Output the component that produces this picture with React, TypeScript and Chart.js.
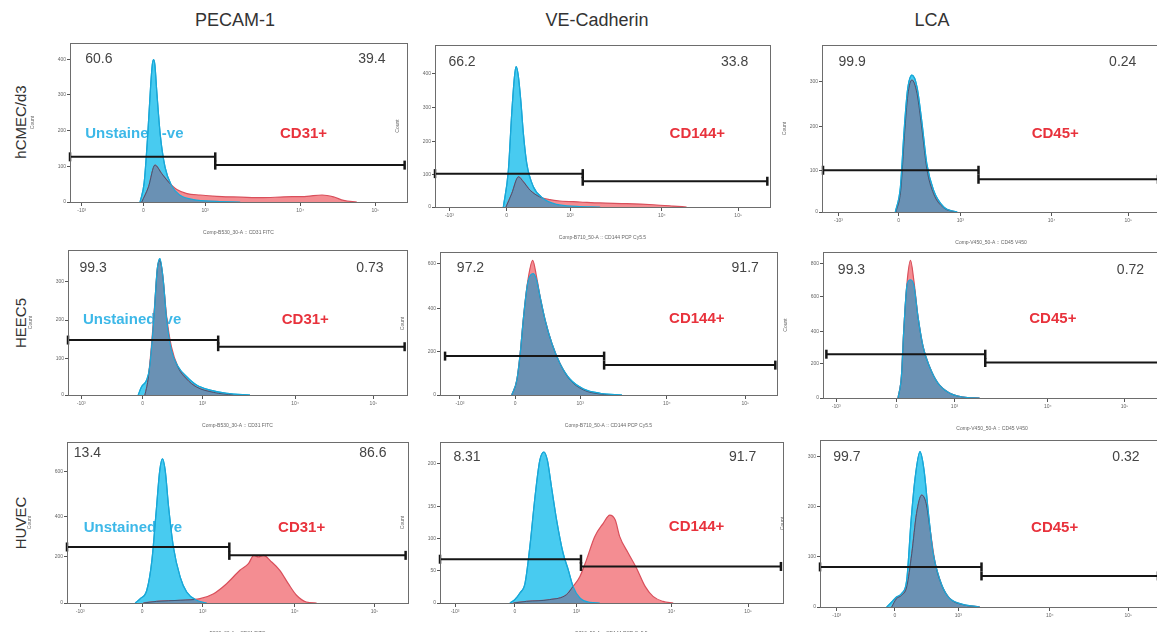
import React, { useEffect, useRef } from "react";
import { Chart, registerables } from "chart.js";

Chart.register(...registerables);

type Pt = [number, number];

// ---------- text ----------
const columnTitles = ["PECAM-1", "VE-Cadherin", "LCA"];
const rowLabels = ["hCMEC/d3", "HEEC5", "HUVEC"];
const positiveLabels = ["CD31+", "CD144+", "CD45+"];
const negativeLabel = "Unstained -ve";
const xTickLabels = ["-10³", "0", "10³", "10⁴", "10⁵"];
const xAxisTitles = [
  "Comp-B530_30-A :: CD31 FITC", "Comp-B710_50-A :: CD144 PCP Cy5.5", "Comp-V450_50-A :: CD45 V450",
  "Comp-B530_30-A :: CD31 FITC", "Comp-B710_50-A :: CD144 PCP Cy5.5", "Comp-V450_50-A :: CD45 V450",
  "B530_30-A :: CD31 FITC", "B710_50-A :: CD144 PCP Cy5.5", "V450_50-A :: CD45 V450",
];
const leftPercents = ["60.6", "66.2", "99.9", "99.3", "97.2", "99.3", "13.4", "8.31", "99.7"];
const rightPercents = ["39.4", "33.8", "0.24", "0.73", "91.7", "0.72", "86.6", "91.7", "0.32"];

// ---------- histogram data (x: % of axis range, y: % of count axis) ----------
const hcmecPecamUnstained: Pt[] = [[20.8,0],[22.0,12],[23.0,40],[23.9,72],[24.4,86],[24.8,89.5],[25.2,86],[25.8,68],[26.8,42],[28.2,22],[30.2,10],[32.7,4.2],[36.6,1.5],[43.6,0.4],[50.5,0]];
const hcmecPecamStained: Pt[] = [[21.3,0],[23.3,9.5],[25.2,23.2],[27.2,17.9],[29.2,12.6],[31.7,7.8],[34.7,5.3],[38.6,4.4],[43.6,3.6],[48.5,3.2],[56.4,2.7],[63.4,3.2],[70.3,3.6],[74.8,4.4],[78.2,3.2],[81.2,1],[85.1,0]];

const hcmecVecadUnstained: Pt[] = [[20.4,0],[21.9,22.7],[22.9,57.7],[23.7,80],[24.2,86.6],[24.8,82],[25.6,66],[26.4,45],[27.4,26.8],[29.4,12.4],[32.3,5.2],[36.3,1.6],[42.3,0.4],[49.3,0]];
const hcmecVecadStained: Pt[] = [[21.2,0],[22.9,8.2],[24.9,18.6],[26.4,15.5],[28.4,10.3],[31.3,6.2],[34.3,4.5],[37.3,3.7],[43.3,3.1],[49.3,2.5],[57.2,2.1],[65.2,1.4],[71.1,0.6],[75.1,0]];

const hcmecLcaUnstained: Pt[] = [[21.7,0],[23.2,15],[24.3,49],[25.3,73],[26.6,82],[28.1,75],[29.6,53],[31.0,29],[33.0,13],[36.0,3],[40,0]];
const hcmecLcaStained: Pt[] = [[21.9,0],[23.3,13],[24.4,46],[25.4,70],[26.6,79],[28.1,71],[29.6,49],[31.0,26],[33.0,11],[36.0,2.5],[39.5,0]];

const heecPecamUnstained: Pt[] = [[20.7,0],[21.7,5.7],[23.2,10.3],[24.1,19.5],[25.3,51.7],[26.3,86],[27.1,94],[28.1,79],[29.1,51.7],[30.5,31],[32.5,19.5],[35,12.6],[37.9,6.9],[41.9,3.4],[46.8,1.1],[53.7,0]];
const heecPecamStained: Pt[] = [[22.7,0],[23.6,10.3],[24.6,33.3],[25.6,63],[26.4,88],[27.1,92.5],[27.9,83.4],[29.1,54],[30.5,33.3],[32.5,19],[35,11],[37.9,5.5],[42.9,1.8],[48.8,0]];

const heecVecadUnstained: Pt[] = [[21.3,0],[22.8,10.5],[23.8,29],[24.8,54.7],[26,77.9],[27.7,84.9],[28.7,80],[29.7,68.6],[31.2,52.3],[33.2,36],[35.6,22],[38.6,11],[42.6,4.2],[47.5,1.2],[54,0]];
const heecVecadStained: Pt[] = [[21.3,0],[22.8,10.5],[23.8,29],[24.8,54.7],[26,79],[27.5,94.2],[28.7,82],[29.7,68.6],[31.2,52.3],[33.2,36],[35.6,22],[38.6,10.5],[42.6,3.5],[47.5,0.7],[52.5,0]];

const heecLcaUnstained: Pt[] = [[22.2,0],[23.2,14.8],[23.9,46.6],[24.9,78],[25.9,81],[26.9,77],[28.1,55.7],[29.6,35.2],[31.5,21.6],[34,10.2],[37.4,3.4],[41.4,0.7],[46.3,0]];
const heecLcaStained: Pt[] = [[22.2,0],[23.2,14.8],[23.9,46.6],[24.9,80],[25.9,94.3],[26.9,80],[28.1,55.7],[29.6,35.2],[31.5,21.6],[34,10.2],[37.4,3.4],[41.4,0.7],[46.3,0]];

const huvecPecamUnstained: Pt[] = [[20,0],[21.5,2.7],[23.4,7.9],[24.9,26.5],[26.1,55.5],[27.2,82.4],[28,89.6],[28.8,82.4],[29.8,59.6],[31.2,34.8],[33.2,16.1],[35.1,6.8],[38,1.7],[41,0]];
const huvecPecamStained: Pt[] = [[22.4,0],[26.3,1],[33.2,1.7],[39,2.7],[43,5.8],[46.8,12],[50.7,20.3],[53.2,24.4],[54.8,29.6],[56.1,28.6],[57.6,29.6],[60,25.5],[62.4,20.3],[64.9,12],[67.3,4.8],[70.2,0.6],[73.2,0]];

const huvecVecadUnstained: Pt[] = [[20.4,0],[21.8,2.1],[23.3,6.2],[24.8,12.4],[26.2,35],[27.7,66],[29.1,88.7],[30.3,93.8],[31.3,88.7],[32.5,72.2],[34,51.5],[35.9,30.9],[37.4,20.6],[38.8,10.3],[40.8,3.1],[43.7,0.4],[46.6,0]];
const huvecVecadStained: Pt[] = [[21.4,0],[25.2,1],[32,2.1],[36.9,5.2],[38.8,10.3],[40.8,16.5],[42.7,26.8],[45.1,41.2],[47.6,49.5],[49.5,54.6],[51.1,51.5],[52.4,41.2],[54.9,30.9],[57.3,21.6],[59.8,10.3],[62.1,4.1],[65,1],[68,0]];

const huvecLcaUnstained: Pt[] = [[19.6,0],[21.1,3],[22.5,6],[24,8],[25.5,16],[26.8,52],[27.9,76],[29.4,93],[30.6,82],[31.9,56],[33.3,32],[35.3,16],[37.7,6],[41.2,2],[47,0]];
const huvecLcaStained: Pt[] = [[21.1,0],[22.5,5],[24,7],[25.5,12],[27,32],[28.4,56],[29.9,67],[31.2,62],[32.4,46],[33.8,27],[35.8,13],[38.2,5],[42.2,1.3],[47,0]];

const unstainedSeries = [hcmecPecamUnstained, hcmecVecadUnstained, hcmecLcaUnstained, heecPecamUnstained, heecVecadUnstained, heecLcaUnstained, huvecPecamUnstained, huvecVecadUnstained, huvecLcaUnstained];
const stainedSeries = [hcmecPecamStained, hcmecVecadStained, hcmecLcaStained, heecPecamStained, heecVecadStained, heecLcaStained, huvecPecamStained, huvecVecadStained, huvecLcaStained];

// ---------- gates ----------
const gateStartX = [0, 0, 0.3, 0, 1.5, 1, 0, 0, 0];
const gateSplitX = [43.1, 44.1, 46.3, 44.3, 48.7, 48, 47.6, 41.1, 47.5];
const gateEndX = [99.3, 99.2, 99.4, 99.3, 99.5, 99.4, 99.3, 99.4, 99.4];
const gateLeftY = [28.4, 20.6, 25, 37.9, 27.2, 30, 34.8, 27.2, 24];
const gateRightY = [23.2, 15.9, 19.6, 33.3, 20.9, 24.3, 29.6, 22.7, 18.6];

// ---------- ticks ----------
const xTickPositions = [
  [3.5, 21.8, 40.1, 68.3, 90.6], [4.3, 21.4, 40.3, 67.7, 90.5], [4.9, 22.7, 40.9, 67.9, 90.6],
  [3.9, 22.0, 39.7, 67.0, 90.1], [5.9, 22.3, 41.6, 67.3, 90.6], [3.9, 21.7, 38.9, 66.5, 89.2],
  [3.9, 22.0, 39.8, 66.8, 90.2], [4.4, 21.8, 39.8, 67.5, 89.8], [4.9, 22.0, 40.7, 67.6, 90.7],
];
const yTickPositions = [
  [0, 22.3, 44.8, 67.4, 89.5], [0, 20.2, 40.2, 61.4, 82.5], [0, 25, 51, 78],
  [0, 25.3, 51.7, 78.2], [0, 30.2, 60.5, 91.9], [0, 23.4, 45.5, 69.3, 92],
  [0, 28.6, 53.8, 81.4], [0, 20.2, 40.2, 59.8, 86.6], [0, 30, 60, 90],
];
const yTickLabels = [
  ["0", "100", "200", "300", "400"], ["0", "100", "200", "300", "400"], ["0", "100", "200", "300"],
  ["0", "100", "200", "300"], ["0", "200", "400", "600"], ["0", "200", "400", "600", "800"],
  ["0", "200", "400", "600"], ["0", "50", "100", "150", "200"], ["0", "100", "200", "300"],
];

// ---------- layout (plot boxes: left, top, width, height) ----------
const boxes = [
  [70, 43, 337, 159], [435, 45, 335, 162], [822, 45, 338, 167],
  [68, 250, 339, 145], [440, 252, 337, 143], [823, 252, 338, 146],
  [67, 442, 341, 161], [440, 442, 343, 161], [820, 440, 340, 167],
];
// label positions in % of plot box: [leftPctX, pctY, rightPctX, labelX, labelY]
const labelLayout = [
  [4.5, 10, 93.6, 69.3, 57], [4.0, 10.3, 93.5, 78.3, 55], [4.9, 10, 93, 69, 53],
  [3.4, 12.6, 93.1, 70, 48.3], [5.0, 11.6, 94.6, 76.2, 46.5], [4.4, 12.5, 95, 68, 45.5],
  [2.0, 7.2, 93.7, 68.8, 53.2], [3.9, 9.3, 92.2, 74.8, 52.6], [3.9, 10, 94, 69, 52.4],
];
const negLabelX = [4.5, 4.4, 4.9];

const titleCenters = [235, 597, 932];
const rowCenters = [122, 323, 523];

const CYAN_FILL = "#48cbf0";
const CYAN_EDGE = "#19a8d8";
const PINK_FILL = "#f48d92";
const RED_EDGE = "#d94f5b";
const OVERLAP_FILL = "#6a91b4";
const OVERLAP_EDGE = "#3d5877";

const PAD_L = 40, PAD_T = 14, PAD_R = 14, PAD_B = 34;

function Panel({ i }: { i: number }) {
  const ref = useRef<HTMLCanvasElement>(null);
  const [L, T, W, H] = boxes[i];
  const col = i % 3;
  useEffect(() => {
    const canvas = ref.current!;
    const toXY = (arr: Pt[]) => arr.map(([x, y]) => ({ x, y }));

    const overlapPlugin = {
      id: "overlap" + i,
      afterDatasetDraw(chart: any, args: any) {
        if (args.index !== 1) return;
        const blue = chart.getDatasetMeta(0).dataset;
        const red = chart.getDatasetMeta(1).dataset;
        const yb = chart.scales.y.getPixelForValue(0);
        const ctx = chart.ctx;
        const a = chart.chartArea;
        const trace = (line: any) => {
          const pts = line.points;
          ctx.beginPath();
          line.path(ctx);
          ctx.lineTo(pts[pts.length - 1].x, yb);
          ctx.lineTo(pts[0].x, yb);
          ctx.closePath();
        };
        ctx.save();
        ctx.beginPath();
        ctx.rect(a.left, a.top, a.right - a.left, a.bottom - a.top);
        ctx.clip();
        ctx.save();
        trace(blue);
        ctx.clip();
        trace(red);
        ctx.fillStyle = OVERLAP_FILL;
        ctx.fill();
        ctx.beginPath();
        red.path(ctx);
        ctx.strokeStyle = OVERLAP_EDGE;
        ctx.lineWidth = 1;
        ctx.stroke();
        ctx.restore();
        ctx.beginPath();
        blue.path(ctx);
        ctx.strokeStyle = CYAN_EDGE;
        ctx.lineWidth = 1.2;
        ctx.stroke();
        ctx.restore();
      },
    };

    const textPlugin = {
      id: "texts" + i,
      beforeDatasetsDraw(chart: any) {
        const ctx = chart.ctx;
        const a = chart.chartArea;
        const w = a.right - a.left, h = a.bottom - a.top;
        const [lx, ly, rx, px, py] = labelLayout[i];
        ctx.save();
        ctx.textBaseline = "middle";
        ctx.font = '14px "Liberation Sans", Arial, sans-serif';
        ctx.fillStyle = "#444";
        ctx.textAlign = "left";
        ctx.fillText(leftPercents[i], a.left + (w * lx) / 100, a.top + (h * ly) / 100);
        ctx.textAlign = "right";
        ctx.fillText(rightPercents[i], a.left + (w * rx) / 100, a.top + (h * ly) / 100);
        ctx.font = 'bold 15px "Liberation Sans", Arial, sans-serif';
        ctx.textAlign = "center";
        ctx.fillStyle = "#e8323c";
        ctx.fillText(positiveLabels[col], a.left + (w * px) / 100, a.top + (h * py) / 100);
        if (col === 0) {
          ctx.textAlign = "left";
          ctx.fillStyle = "#3db8e8";
          ctx.fillText(negativeLabel, a.left + (w * negLabelX[Math.floor(i / 3)]) / 100, a.top + (h * py) / 100);
        }
        ctx.restore();
      },
    };

    const framePlugin = {
      id: "frame" + i,
      afterDraw(chart: any) {
        const ctx = chart.ctx;
        const a = chart.chartArea;
        ctx.save();
        ctx.strokeStyle = "#6d6d6d";
        ctx.lineWidth = 1;
        ctx.strokeRect(Math.round(a.left) + 0.5, Math.round(a.top) + 0.5, Math.round(a.right - a.left), Math.round(a.bottom - a.top));
        ctx.restore();
      },
    };

    const gateStyle = {
      borderColor: "#161616",
      borderWidth: 2,
      pointStyle: "line" as const,
      rotation: 90,
      pointRadius: 4.5,
      pointBorderWidth: 2.5,
      pointBorderColor: "#161616",
      fill: false,
      clip: false as any,
      order: 1,
    };

    const chart = new Chart(canvas, {
      type: "line",
      data: {
        datasets: [
          {
            label: "Unstained",
            data: toXY(unstainedSeries[i]),
            backgroundColor: CYAN_FILL,
            borderColor: CYAN_EDGE,
            borderWidth: 1.2,
            pointRadius: 0,
            fill: "origin",
            cubicInterpolationMode: "monotone",
            order: 3,
          },
          {
            label: "Stained",
            data: toXY(stainedSeries[i]),
            backgroundColor: PINK_FILL,
            borderColor: RED_EDGE,
            borderWidth: 1.2,
            pointRadius: 0,
            fill: "origin",
            cubicInterpolationMode: "monotone",
            order: 2,
          },
          {
            label: "gate-",
            data: [{ x: gateStartX[i], y: gateLeftY[i] }, { x: gateSplitX[i], y: gateLeftY[i] }],
            ...gateStyle,
          },
          {
            label: "gate+",
            data: [{ x: gateSplitX[i], y: gateRightY[i] }, { x: gateEndX[i], y: gateRightY[i] }],
            ...gateStyle,
          },
        ] as any,
      },
      options: {
        animation: false,
        responsive: false,
        maintainAspectRatio: false,
        events: [],
        layout: { padding: { left: 0, top: PAD_T, right: PAD_R, bottom: 0 } },
        plugins: { legend: { display: false }, tooltip: { enabled: false } },
        scales: {
          x: {
            type: "linear",
            min: 0,
            max: 100,
            afterFit: (s: any) => { s.height = PAD_B; },
            afterBuildTicks: (s: any) => { s.ticks = xTickPositions[i].map((v) => ({ value: v })); },
            ticks: {
              autoSkip: false,
              maxRotation: 0,
              padding: 2,
              color: "#666",
              font: { size: 5 },
              callback: (_v: any, idx: number) => xTickLabels[idx],
            },
            grid: { drawOnChartArea: false, drawTicks: true, tickLength: 4, color: "#555" },
            border: { display: false },
            title: { display: true, text: xAxisTitles[i], color: "#666", font: { size: 5 }, padding: { top: 5, bottom: 0 } },
          },
          y: {
            type: "linear",
            min: 0,
            max: 100,
            afterFit: (s: any) => { s.width = PAD_L; },
            afterBuildTicks: (s: any) => { s.ticks = yTickPositions[i].map((v) => ({ value: v })); },
            ticks: {
              autoSkip: false,
              padding: 1,
              color: "#666",
              font: { size: 5 },
              callback: (_v: any, idx: number) => yTickLabels[i][idx],
            },
            grid: { drawOnChartArea: false, drawTicks: true, tickLength: 3, color: "#555" },
            border: { display: false },
            title: { display: true, text: "Count", color: "#666", font: { size: 5 }, padding: { top: 0, bottom: 2 } },
          },
        },
      } as any,
      plugins: [textPlugin, overlapPlugin, framePlugin],
    });
    return () => chart.destroy();
  }, [i]);

  const cw = W + PAD_L + PAD_R;
  const ch = H + PAD_T + PAD_B;
  return (
    <canvas
      ref={ref}
      width={cw}
      height={ch}
      style={{ position: "absolute", left: L - PAD_L, top: T - PAD_T, width: cw, height: ch }}
    />
  );
}

export default function App() {
  return (
    <div
      style={{
        position: "fixed",
        left: 0,
        top: 0,
        width: 1157,
        height: 632,
        overflow: "hidden",
        background: "#fff",
        fontFamily: '"Liberation Sans", Arial, sans-serif',
      }}
    >
      {columnTitles.map((t, k) => (
        <div
          key={t}
          style={{
            position: "absolute",
            left: titleCenters[k],
            top: 20,
            transform: "translate(-50%, -50%)",
            fontSize: 18,
            color: "#333",
            whiteSpace: "nowrap",
          }}
        >
          {t}
        </div>
      ))}
      {rowLabels.map((t, k) => (
        <div
          key={t}
          style={{
            position: "absolute",
            left: 20,
            top: rowCenters[k],
            transform: "translate(-50%, -50%) rotate(-90deg)",
            fontSize: 15,
            color: "#333",
            whiteSpace: "nowrap",
          }}
        >
          {t}
        </div>
      ))}
      {boxes.map((_, i) => (
        <Panel key={i} i={i} />
      ))}
    </div>
  );
}
